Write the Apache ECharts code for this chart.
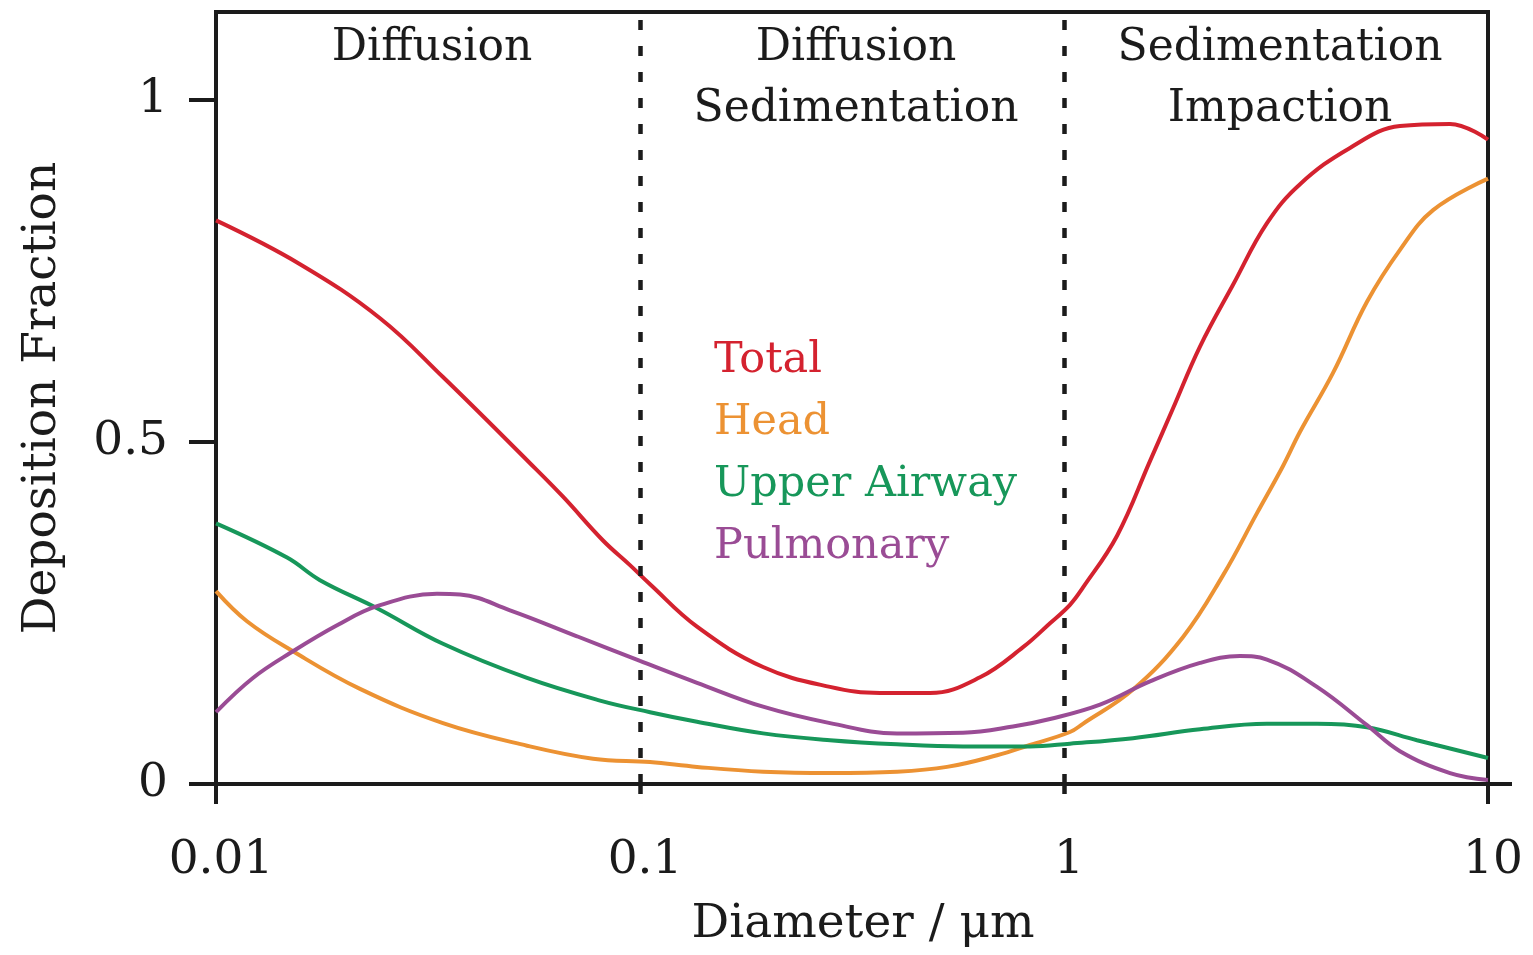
<!DOCTYPE html>
<html><head><meta charset="utf-8">
<script src="https://cdn.jsdelivr.net/npm/echarts@6/dist/echarts.min.js"></script>
<style>html,body{margin:0;padding:0;background:#fff}#c{width:1533px;height:955px}</style>
</head><body><div id="c"></div>
<script>
// ---- data (diameter in µm, deposition fraction) ----
const totalD = [0.01, 0.01578, 0.02437, 0.0343, 0.05503, 0.06583, 0.0818, 0.0947, 0.1056, 0.1363, 0.1951, 0.2806, 0.3681, 0.4831, 0.6338, 0.8006, 0.9268, 1.033, 1.108, 1.334, 1.595, 1.807, 2.094, 2.504, 3.011, 3.603, 4.726, 6.2, 8.137, 10];
const totalV = [0.824, 0.760, 0.681, 0.595, 0.469, 0.420, 0.356, 0.320, 0.292, 0.230, 0.171, 0.142, 0.133, 0.133, 0.156, 0.200, 0.235, 0.262, 0.287, 0.363, 0.472, 0.549, 0.640, 0.730, 0.820, 0.877, 0.930, 0.962, 0.965, 0.942];
const headD = [0.01, 0.01183, 0.01519, 0.02186, 0.0343, 0.05414, 0.07748, 0.1056, 0.1363, 0.1951, 0.2806, 0.4037, 0.5298, 0.695, 0.8314, 1.033, 1.108, 1.455, 1.909, 2.371, 2.852, 3.285, 3.603, 4.31, 5.183, 6.2, 7.42, 10];
const headV = [0.282, 0.238, 0.194, 0.139, 0.089, 0.056, 0.037, 0.032, 0.025, 0.018, 0.016, 0.018, 0.025, 0.042, 0.057, 0.076, 0.088, 0.138, 0.215, 0.305, 0.396, 0.465, 0.515, 0.601, 0.705, 0.781, 0.839, 0.885];
const airD = [0.01, 0.01471, 0.01759, 0.02398, 0.0343, 0.05414, 0.08049, 0.1056, 0.1363, 0.1951, 0.2806, 0.4037, 0.5779, 0.8314, 1.033, 1.455, 2.094, 3.011, 3.951, 5.183, 6.8, 10];
const airV = [0.381, 0.331, 0.298, 0.257, 0.205, 0.155, 0.122, 0.105, 0.091, 0.074, 0.064, 0.058, 0.055, 0.055, 0.059, 0.067, 0.080, 0.088, 0.088, 0.083, 0.064, 0.038];
const pulD = [0.01, 0.01222, 0.01519, 0.0193, 0.02398, 0.0332, 0.03763, 0.04936, 0.07101, 0.1, 0.1363, 0.1951, 0.2806, 0.4037, 0.5779, 0.7581, 0.9268, 1.216, 1.595, 2.094, 2.6, 3.011, 3.951, 5.183, 6.2, 8.137, 10];
const pulV = [0.105, 0.155, 0.194, 0.232, 0.260, 0.278, 0.277, 0.254, 0.216, 0.180, 0.148, 0.113, 0.089, 0.074, 0.075, 0.084, 0.095, 0.116, 0.150, 0.177, 0.187, 0.182, 0.142, 0.086, 0.048, 0.016, 0.006];

const seriesNames = ['Total', 'Head', 'Upper Airway', 'Pulmonary'];
const xTicks = [0.01, 0.1, 1, 10];
const yTicks = [0, 0.5, 1];
const regionBounds = [0.1, 1];
const regionLabels = ['Diffusion', 'Diffusion\nSedimentation', 'Sedimentation\nImpaction'];

const colors = ['#d4222f', '#ec9233', '#17975a', '#9a4c95'];
const INK = '#1b1b1b';
const FONT = '"DejaVu Serif", "Liberation Serif", serif';

const zip = (d, v) => d.map((x, i) => [x, v[i]]);
const allData = [zip(totalD, totalV), zip(headD, headV), zip(airD, airV), zip(pulD, pulV)];

const chart = echarts.init(document.getElementById('c'), null, {renderer: 'canvas'});

const fmt = v => String(+Number(v).toPrecision(3));

const option = {
  backgroundColor: '#fff',
  animation: false,
  grid: {left: 216, right: 45, top: 12, bottom: 171, show: true, borderColor: INK, borderWidth: 4},
  xAxis: [{
    type: 'log', logBase: 10, min: 0.01, max: 10,
    name: 'Diameter / μm', nameLocation: 'middle', nameGap: 117,
    nameTextStyle: {fontFamily: FONT, fontSize: 47, color: INK, padding: [0, 0, 0, 22]},
    axisLine: {lineStyle: {color: INK, width: 4}},
    axisTick: {show: true, inside: false, length: 20, lineStyle: {color: INK, width: 4}, customValues: [0.01, 10]},
    axisLabel: {fontFamily: FONT, fontSize: 47, color: INK, margin: 53, padding: [0, 0, 0, 10],
      customValues: xTicks, formatter: fmt},
    splitLine: {show: false}, minorTick: {show: false}
  }, {
    type: 'log', logBase: 10, min: 0.01, max: 10, position: 'bottom',
    axisLine: {show: false},
    axisTick: {show: true, inside: false, length: 22, customValues: regionBounds,
      lineStyle: {color: INK, width: 4.5, type: [10, 16], dashOffset: 0}},
    axisLabel: {show: false}, splitLine: {show: false}
  }],
  yAxis: {
    type: 'value', min: 0, max: 1.1287,
    name: 'Deposition Fraction', nameLocation: 'middle', nameGap: 150, nameRotate: 90,
    nameTextStyle: {fontFamily: FONT, fontSize: 47, color: INK},
    axisLine: {show: true, lineStyle: {color: INK, width: 4}},
    axisTick: {show: true, inside: false, length: 27, lineStyle: {color: INK, width: 4}, customValues: yTicks},
    axisLabel: {fontFamily: FONT, fontSize: 47, color: INK, margin: 48, padding: [10, 0, 0, 0],
      customValues: yTicks, formatter: fmt},
    splitLine: {show: false}
  },
  legend: {
    orient: 'vertical', left: 704, top: 331, icon: 'none', itemWidth: 0, itemHeight: 10, itemGap: 12,
    selectedMode: false,
    textStyle: {fontFamily: FONT, fontSize: 43, lineHeight: 50},
    data: seriesNames.map((n, i) => ({name: n, textStyle: {color: colors[i]}}))
  },
  series: seriesNames.map((n, i) => ({
    name: n, type: 'line', data: allData[i], smooth: 0.4, showSymbol: false,
    color: colors[i], lineStyle: {width: 4, color: colors[i]}, z: 3,
    markLine: i === 0 ? {
      silent: true, symbol: ['none', 'none'], label: {show: false},
      lineStyle: {color: INK, width: 4.5, type: [10, 16]},
      data: regionBounds.map(b => ({xAxis: b}))
    } : undefined
  }))
};
chart.setOption(option);

// region labels and the axis-line overhang, placed through the axis scale
const px = v => chart.convertToPixel({xAxisIndex: 0}, v);
const py = v => chart.convertToPixel({yAxisIndex: 0}, v);
const edges = [0.01, 0.1, 1, 10];
const graphics = [];
regionLabels.forEach((t, i) => {
  const cx = (px(edges[i]) + px(edges[i + 1])) / 2 + 4;
  graphics.push({
    type: 'text', silent: true,
    style: {text: t, x: cx, y: 18, textAlign: 'center', textVerticalAlign: 'top',
      font: '44px ' + FONT, fill: INK, lineHeight: 61}
  });
});
graphics.push({type: 'line', silent: true,
  shape: {x1: px(10), y1: py(0), x2: px(10) + 24, y2: py(0)},
  style: {stroke: INK, lineWidth: 4}});
chart.setOption({graphic: graphics});
</script>
</body></html>
